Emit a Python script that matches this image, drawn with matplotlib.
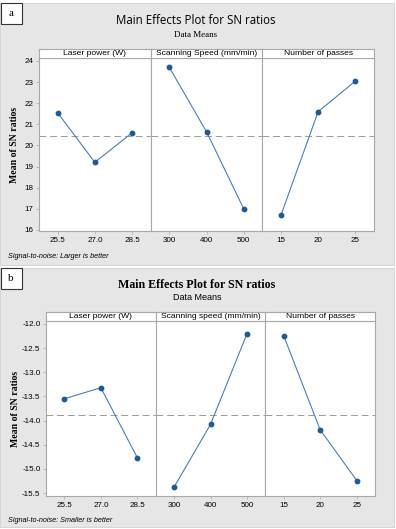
import numpy as np
import matplotlib.pyplot as plt
from matplotlib.patches import Rectangle

# panel a data (larger is better)
factors_a = ['Laser power (W)', 'Scanning Speed (mm/min)', 'Number of passes']
levels_a = [['25.5', '27.0', '28.5'], ['300', '400', '500'], ['15', '20', '25']]
sn_a = [[21.55, 19.2, 20.6], [23.7, 20.65, 17.0], [16.7, 21.6, 23.05]]
mean_a = 20.45
yticks_a = [16, 17, 18, 19, 20, 21, 22, 23, 24]

# panel b data (smaller is better)
factors_b = ['Laser power (W)', 'Scanning speed (mm/min)', 'Number of passes']
levels_b = [['25.5', '27.0', '28.5'], ['300', '400', '500'], ['15', '20', '25']]
sn_b = [[-13.55, -13.32, -14.77], [-15.38, -14.08, -12.2], [-12.24, -14.19, -15.24]]
mean_b = -13.88
yticks_b = [-12.0, -12.5, -13.0, -13.5, -14.0, -14.5, -15.0, -15.5]

W, H = 396, 529
fig = plt.figure(figsize=(W / 100, H / 100), dpi=100)
fig.patch.set_facecolor('white')

LINE = '#4a7fb5'
DOT = '#1f5a96'
GRID = '#a8a8a8'


def px(x, y, w, h):
    # pixel box (top-left origin) -> figure fraction
    return [x / W, 1 - (y + h) / H, w / W, h / H]


def bg(y0, y1, label, ly):
    fig.patches.append(Rectangle((0, 1 - y1 / H), 394 / W, (y1 - y0) / H,
                                 transform=fig.transFigure, fc='#e6e6e6', ec='#d0d0d0', lw=0.6, zorder=-5))
    fig.patches.append(Rectangle((1 / W, 1 - (ly + 21) / H), 21 / W, 21 / H,
                                 transform=fig.transFigure, fc='white', ec='#333333', lw=0.8, zorder=5))
    fig.text(11 / W, 1 - (ly + 10.5) / H, label, ha='center', va='center',
             fontsize=8, family='Liberation Serif', zorder=6)


def panel(left, right, top, bottom, strip_h, factors, levels, sn, mean, yticks, ylim, fmt):
    n = len(factors)
    w = (right - left) / n
    axes = []
    for i in range(n):
        ax = fig.add_axes(px(left + i * w, top, w, bottom - top))
        ax.set_facecolor('white')
        x = np.arange(len(levels[i]))
        ax.plot(x, sn[i], color=LINE, lw=0.8, zorder=3)
        ax.plot(x, sn[i], 'o', color=DOT, ms=3.2, zorder=4)
        ax.axhline(mean, color='#9a9a9a', lw=0.7, ls=(0, (7, 4)), zorder=2)
        ax.set_xlim(-0.5, 2.5)
        ax.set_ylim(*ylim)
        ax.set_xticks(x)
        ax.set_xticklabels(levels[i], fontsize=5.8, family='Liberation Sans')
        ax.set_yticks(yticks)
        if i == 0:
            ax.set_yticklabels([fmt % v for v in yticks], fontsize=5.8, family='Liberation Sans')
        else:
            ax.tick_params(axis='y', left=False, labelleft=False)
        ax.tick_params(axis='both', length=2, width=0.5, color=GRID, pad=2)
        for s in ax.spines.values():
            s.set_color(GRID)
            s.set_linewidth(0.8)
        # strip header
        sax = fig.add_axes(px(left + i * w, top - strip_h, w, strip_h))
        sax.set_xticks([])
        sax.set_yticks([])
        sax.set_facecolor('white')
        for s in sax.spines.values():
            s.set_color(GRID)
            s.set_linewidth(0.8)
        sax.text(0.5, 0.45, factors[i], ha='center', va='center', fontsize=6.1,
                 family='Liberation Sans', transform=sax.transAxes)
        axes.append(ax)
    return axes


# ---- panel a ----
bg(3, 265, 'a', 3)
fig.text(196 / W, 1 - 21 / H, 'Main Effects Plot for SN ratios', ha='center', va='center',
         fontsize=8.3, family='Open Sans')
fig.text(196 / W, 1 - 35 / H, 'Data Means', ha='center', va='center',
         fontsize=6.5, family='Liberation Serif')
panel(39, 374, 58, 231, 9, factors_a, levels_a, sn_a, mean_a, yticks_a, (15.95, 24.14), '%d')
fig.text(15 / W, 1 - 145 / H, 'Mean of SN ratios', rotation=90, ha='center', va='center',
         fontsize=7, family='Liberation Serif', weight='bold')
fig.text(8 / W, 1 - 257 / H, 'Signal-to-noise: Larger is better', ha='left', va='center',
         fontsize=5.2, style='italic', family='Liberation Sans')

# ---- panel b ----
bg(268, 527, 'b', 268)
fig.text(197 / W, 1 - 285 / H, 'Main Effects Plot for SN ratios', ha='center', va='center',
         fontsize=8.6, family='Liberation Serif', weight='bold')
fig.text(197 / W, 1 - 298 / H, 'Data Means', ha='center', va='center',
         fontsize=6.5, family='Liberation Sans')
panel(46, 375, 321, 496, 9, factors_b, levels_b, sn_b, mean_b, yticks_b, (-15.56, -11.94), '%.1f')
fig.text(16 / W, 1 - 409 / H, 'Mean of SN ratios', rotation=90, ha='center', va='center',
         fontsize=7, family='Liberation Serif', weight='bold')
fig.text(8 / W, 1 - 521 / H, 'Signal-to-noise: Smaller is better', ha='left', va='center',
         fontsize=5.2, style='italic', family='Liberation Sans')

fig.savefig('out.png', dpi=100)
